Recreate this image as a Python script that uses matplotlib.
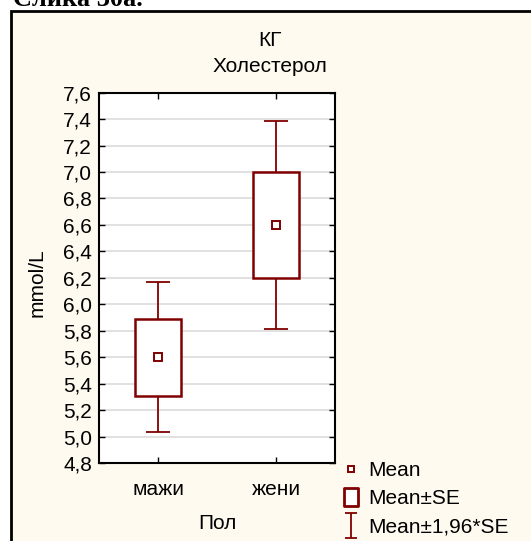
import numpy as np
import matplotlib
matplotlib.use('Agg')
import matplotlib.pyplot as plt
from matplotlib.lines import Line2D
from matplotlib.patches import Rectangle
from matplotlib.path import Path

plt.rcParams['font.family'] = ['Liberation Sans', 'DejaVu Sans']

groups = ['мажи', 'жени']
means = [5.60, 6.60]
se = [0.29, 0.40]
yticks = np.arange(4.8, 7.61, 0.2)

red = '#800000'
cream = '#fffaf0'
fs = 15

fig = plt.figure(figsize=(5.31, 5.41), dpi=100)
fig.patch.set_facecolor('white')

# outer panel with thick border, running off the right/bottom edge
fig.patches.append(Rectangle((11/531, -0.05), 1.2, 1 - 11/541 + 0.05,
                             transform=fig.transFigure, facecolor=cream,
                             edgecolor='black', linewidth=2, zorder=-5))
fig.text(13/531, 1 - 6/541, 'Слика 30а.', fontsize=19, weight='bold',
         family='Liberation Serif', va='baseline', ha='left')

ax = fig.add_axes([99/531, 78/541, 236/531, 370.3/541])
ax.set_facecolor('white')

x = np.arange(len(groups))
m = np.array(means)
s = np.array(se)
ci = 1.96 * s

# whiskers (mean +/- 1.96*SE)
ax.vlines(x, m + s, m + ci, color=red, lw=1.3, zorder=3)
ax.vlines(x, m - ci, m - s, color=red, lw=1.3, zorder=3)
ax.hlines(m + ci, x - 0.1, x + 0.1, color=red, lw=1.3, zorder=3)
ax.hlines(m - ci, x - 0.1, x + 0.1, color=red, lw=1.3, zorder=3)
# boxes (mean +/- SE)
ax.bar(x, 2 * s, bottom=m - s, width=0.39, facecolor='white',
       edgecolor=red, linewidth=1.8, zorder=3)
# means
ax.plot(x, m, 's', ms=6, mfc='white', mec=red, mew=1.4, zorder=4)

ax.set_xlim(-0.5, 1.5)
ax.set_ylim(4.8, 7.6)
ax.set_xticks(x)
ax.set_xticklabels(groups, fontsize=fs)
ax.set_yticks(yticks)
ax.set_yticklabels([f'{v:.1f}'.replace('.', ',') for v in yticks], fontsize=fs)
ax.tick_params(direction='in', length=4, width=1, top=True, right=True, pad=5)
ax.tick_params(axis='x', pad=12)
ax.yaxis.grid(True, color='#dcdcdc', lw=1.2)
ax.set_axisbelow(True)
for sp in ax.spines.values():
    sp.set_linewidth(1.5)

ax.set_xlabel('Пол', fontsize=fs, labelpad=11)
fig.text(37/531, 1 - 283/541, 'mmol/L', rotation=90, fontsize=fs,
         ha='center', va='center')

fig.text(270/531, 1 - 40/541, 'КГ', fontsize=fs, ha='center', va='center')
fig.text(270/531, 1 - 67/541, 'Холестерол', fontsize=fs, ha='center', va='center')

# legend symbols
box_path = Path([(-0.4, -0.5), (0.4, -0.5), (0.4, 0.5), (-0.4, 0.5), (-0.4, -0.5)],
                [Path.MOVETO, Path.LINETO, Path.LINETO, Path.LINETO, Path.CLOSEPOLY])
ibar_path = Path([(-0.25, 0.5), (0.25, 0.5), (0, 0.5), (0, -0.5), (-0.25, -0.5), (0.25, -0.5)],
                 [Path.MOVETO, Path.LINETO, Path.MOVETO, Path.LINETO, Path.MOVETO, Path.LINETO])
handles = [
    Line2D([], [], ls='none', marker='s', ms=5, mfc='white', mec=red, mew=1.4),
    Line2D([], [], ls='none', marker=box_path, ms=13, mfc='white', mec=red, mew=2.0),
    Line2D([], [], ls='none', marker=ibar_path, ms=18, mfc='none', mec=red, mew=1.3),
]
fig.legend(handles, ['Mean', 'Mean±SE', 'Mean±1,96*SE'], loc='upper left',
           bbox_to_anchor=(343/531, 1 - 461/541), frameon=False, fontsize=fs,
           handlelength=0.8, handletextpad=0.4, labelspacing=0.45,
           borderpad=0, borderaxespad=0)

fig.savefig('out.png', dpi=100, facecolor=fig.get_facecolor())
